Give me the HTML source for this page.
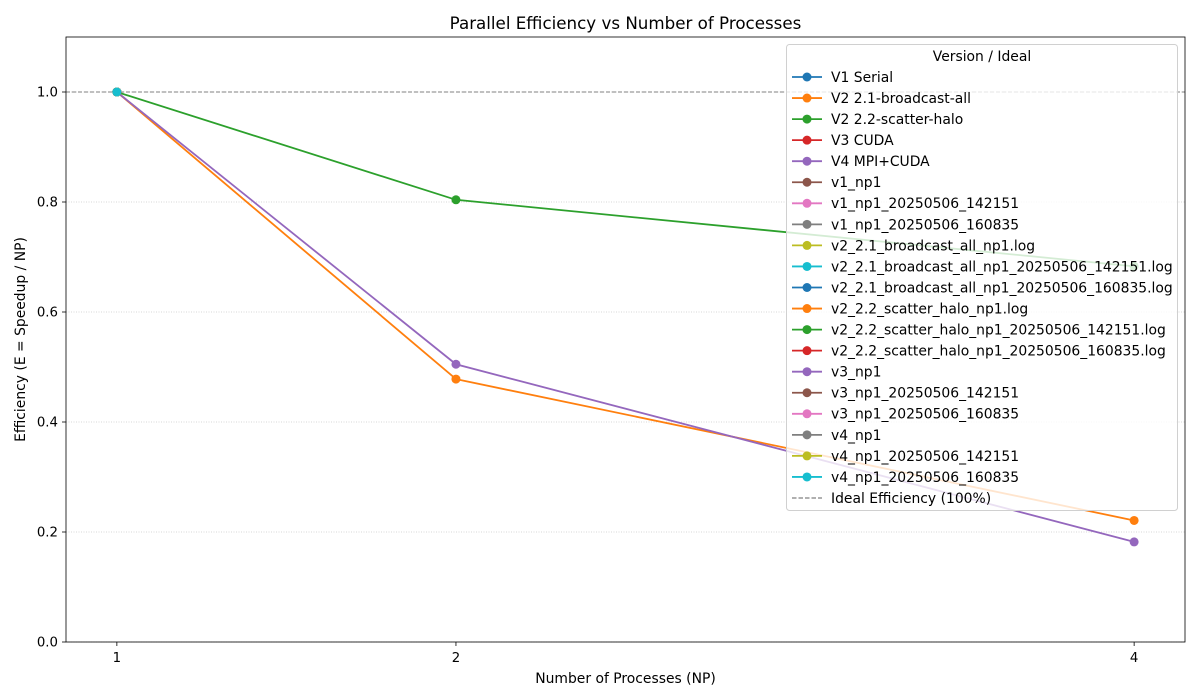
<!DOCTYPE html>
<html><head><meta charset="utf-8"><style>
html,body{margin:0;padding:0;background:#fff;}
svg{display:block;font-family:"DejaVu Sans","Liberation Sans",sans-serif;}
</style></head><body>
<svg id="chart" width="1200" height="700" viewBox="0 0 1200 700"></svg>
<script>
const npValues = [1, 2, 4];
const seriesNames = ["V1 Serial","V2 2.1-broadcast-all","V2 2.2-scatter-halo","V3 CUDA","V4 MPI+CUDA","v1_np1","v1_np1_20250506_142151","v1_np1_20250506_160835","v2_2.1_broadcast_all_np1.log","v2_2.1_broadcast_all_np1_20250506_142151.log","v2_2.1_broadcast_all_np1_20250506_160835.log","v2_2.2_scatter_halo_np1.log","v2_2.2_scatter_halo_np1_20250506_142151.log","v2_2.2_scatter_halo_np1_20250506_160835.log","v3_np1","v3_np1_20250506_142151","v3_np1_20250506_160835","v4_np1","v4_np1_20250506_142151","v4_np1_20250506_160835"];
const seriesValues = [
 [1.0],
 [1.0, 0.478, 0.221],
 [1.0, 0.804, 0.683],
 [1.0],
 [1.0, 0.505, 0.182],
 [1.0],[1.0],[1.0],[1.0],[1.0],[1.0],[1.0],[1.0],[1.0],[1.0],[1.0],[1.0],[1.0],[1.0],[1.0]
];
const yTicks = [0.0, 0.2, 0.4, 0.6, 0.8, 1.0];
const yTickLabels = ["0.0","0.2","0.4","0.6","0.8","1.0"];
const xTicks = [1, 2, 4];
const idealValue = 1.0;

const colors = ["#1f77b4","#ff7f0e","#2ca02c","#d62728","#9467bd","#8c564b","#e377c2","#7f7f7f","#bcbd22","#17becf"];
const L=66,R=1185,T=37,B=642;
const xMin=0.85,xMax=4.15,yMin=0,yMax=1.1;
const X=v=>L+(v-xMin)/(xMax-xMin)*(R-L);
const Y=v=>B-(v-yMin)/(yMax-yMin)*(B-T);
const svg=document.getElementById('chart');
const NS='http://www.w3.org/2000/svg';
function mk(tag,attrs,parent){const e=document.createElementNS(NS,tag);for(const k in attrs)e.setAttribute(k,attrs[k]);(parent||svg).appendChild(e);return e;}

let t=mk('text',{x:(L+R)/2,y:29,'text-anchor':'middle','font-size':16.7,fill:'#000'});
t.textContent='Parallel Efficiency vs Number of Processes';



const grid=mk('g',{});


yTicks.forEach((v,i)=>{
  mk('line',{x1:L,x2:R,y1:Y(v),y2:Y(v),stroke:'#b0b0b0','stroke-width':0.6,'stroke-dasharray':'1,1.5'},grid);
  mk('line',{x1:L-4,x2:L,y1:Y(v),y2:Y(v),stroke:'#000','stroke-width':0.8});
  const tl=mk('text',{x:L-8,y:Y(v)+4.7,'text-anchor':'end','font-size':13.3,fill:'#000'});
  tl.textContent=yTickLabels[i];
  
  
});
xTicks.forEach(v=>{
  mk('line',{x1:X(v),x2:X(v),y1:B,y2:B+4,stroke:'#000','stroke-width':0.8});
  const tl=mk('text',{x:X(v),y:B+20,'text-anchor':'middle','font-size':13.3,fill:'#000'});
  tl.textContent=String(v);
  
  
});

const ideal=mk('line',{x1:L,x2:R,y1:Y(idealValue),y2:Y(idealValue),stroke:'#808080','stroke-width':1,'stroke-dasharray':'4,2'});



seriesValues.forEach((vals,i)=>{
  const c=colors[i%10];
  const g=mk('g',{});
  
  
  if(vals.length>1){
    mk('polyline',{points:vals.map((v,j)=>X(npValues[j])+','+Y(v)).join(' '),fill:'none',stroke:c,'stroke-width':1.8},g);
  }
  vals.forEach((v,j)=>{
    const p=mk('circle',{cx:X(npValues[j]),cy:Y(v),r:4.5,fill:c},g);
    
    
  });
});

mk('rect',{x:L,y:T,width:R-L,height:B-T,fill:'none',stroke:'#000','stroke-width':0.8});

let xl=mk('text',{x:(L+R)/2,y:683,'text-anchor':'middle','font-size':13.9,fill:'#000'});
xl.textContent='Number of Processes (NP)';


let yl=mk('text',{x:0,y:0,'text-anchor':'middle','font-size':13.9,fill:'#000',transform:'translate(25,'+((T+B)/2)+') rotate(-90)'});
yl.textContent='Efficiency (E = Speedup / NP)';



// legend
const lg=mk('g',{});


mk('rect',{x:786.5,y:44.5,width:391,height:466,rx:3,fill:'rgba(255,255,255,0.8)',stroke:'#d0d0d0','stroke-width':1},lg);
let lt=mk('text',{x:982,y:61,'text-anchor':'middle','font-size':13.9,fill:'#000'},lg);
lt.textContent='Version / Ideal';


const entries=seriesNames.concat(['Ideal Efficiency (100%)']);
entries.forEach((n,i)=>{
  const y=77+i*21.05;
  const e=mk('g',{},lg);
  
  
  if(i<seriesNames.length){
    const c=colors[i%10];
    mk('line',{x1:792,x2:822,y1:y,y2:y,stroke:c,'stroke-width':1.8},e);
    mk('circle',{cx:807,cy:y,r:4.5,fill:c},e);
  } else {
    mk('line',{x1:792,x2:822,y1:y,y2:y,stroke:'#808080','stroke-width':1.2,'stroke-dasharray':'4.5,2'},e);
  }
  const tx=mk('text',{x:831,y:y+4.9,'font-size':13.9,fill:'#000'},e);
  tx.textContent=n;
});
</script>
</body></html>
